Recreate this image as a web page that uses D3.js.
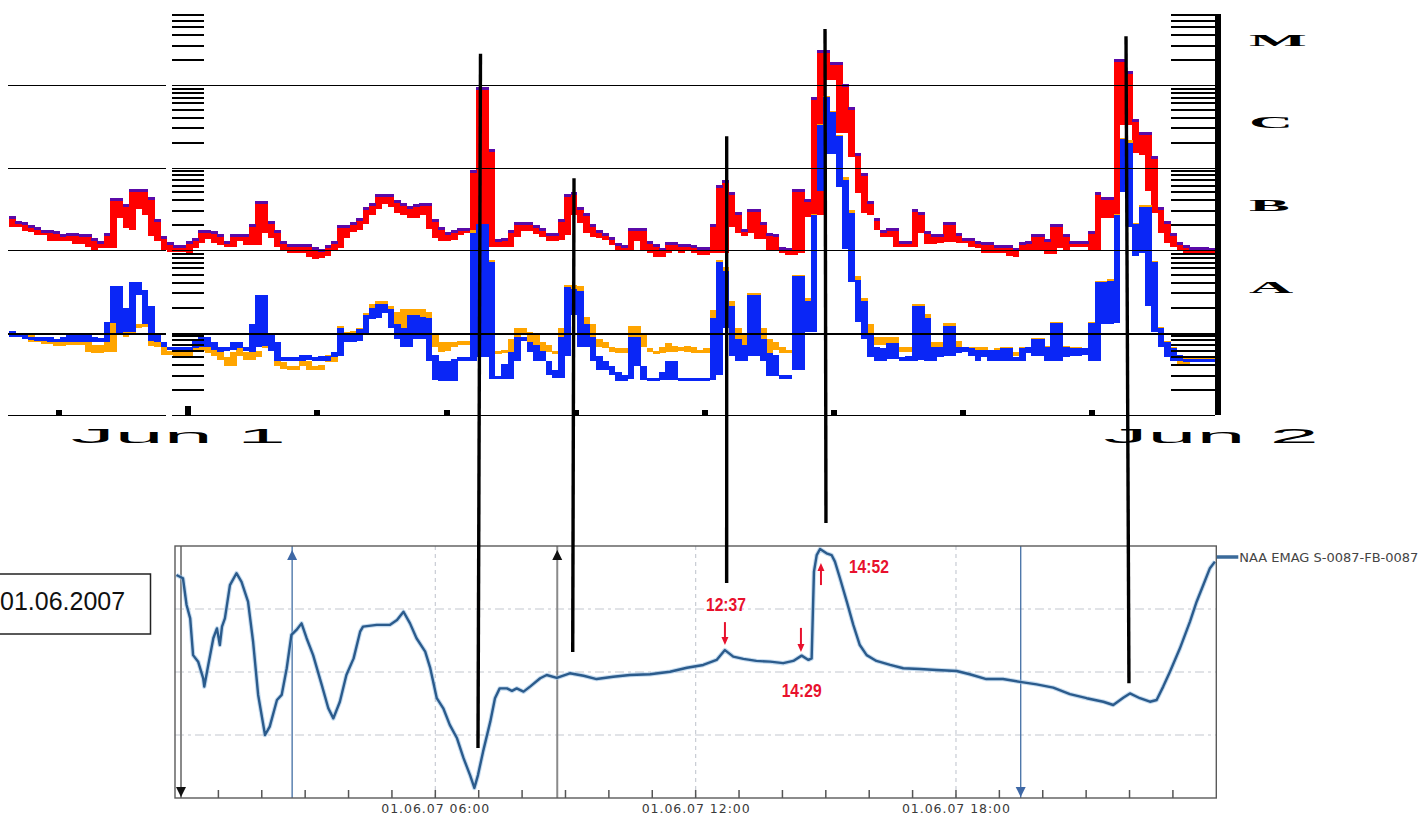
<!DOCTYPE html>
<html><head><meta charset="utf-8">
<script src="https://cdn.jsdelivr.net/npm/d3@7"></script>
<style>html,body{margin:0;padding:0;background:#fff;overflow:hidden}svg{display:block}</style>
</head><body>
<svg id="c" width="1425" height="815"></svg>
<script>
// ---------------- DATA ----------------
// GOES X-ray flux, log10(W/m^2), one value pair (bin max / bin min) per 8.8-minute bin starting 31 May 2007 19:50 UT
const binStartUTC = Date.UTC(2007, 4, 31, 19, 50);
const binMinutes = 8.8;
// long channel (1-8 A), red with purple cap
const longTop = [-6.59,-6.65,-6.66,-6.70,-6.72,-6.76,-6.76,-6.77,-6.81,-6.79,
-6.79,-6.81,-6.81,-6.85,-6.89,-6.79,-6.37,-6.37,-6.44,-6.26,
-6.26,-6.26,-6.36,-6.62,-6.83,-6.90,-6.94,-6.94,-6.89,-6.85,
-6.76,-6.76,-6.77,-6.81,-6.89,-6.81,-6.81,-6.81,-6.68,-6.41,
-6.41,-6.65,-6.76,-6.89,-6.93,-6.93,-6.93,-6.93,-6.96,-6.99,
-6.94,-6.89,-6.70,-6.70,-6.66,-6.61,-6.48,-6.43,-6.32,-6.32,
-6.32,-6.39,-6.43,-6.47,-6.44,-6.43,-6.43,-6.62,-6.72,-6.78,
-6.76,-6.73,-6.73,-6.03,-5.02,-5.02,-5.78,-6.87,-6.85,-6.76,
-6.66,-6.66,-6.66,-6.70,-6.73,-6.79,-6.79,-6.62,-6.32,-6.30,
-6.48,-6.55,-6.68,-6.76,-6.79,-6.84,-6.92,-6.94,-6.73,-6.73,
-6.73,-6.89,-6.93,-6.98,-6.90,-6.90,-6.93,-6.93,-6.94,-6.96,
-6.96,-6.68,-6.21,-6.15,-6.30,-6.54,-6.75,-6.50,-6.50,-6.66,
-6.79,-6.81,-6.96,-6.98,-6.26,-6.26,-6.38,-5.15,-4.58,-4.58,
-4.72,-4.72,-4.99,-5.27,-5.82,-6.07,-6.41,-6.61,-6.76,-6.73,
-6.73,-6.89,-6.89,-6.50,-6.54,-6.77,-6.81,-6.81,-6.66,-6.66,
-6.79,-6.85,-6.85,-6.89,-6.90,-6.90,-6.94,-6.94,-6.94,-6.98,
-6.90,-6.89,-6.81,-6.81,-6.87,-6.68,-6.68,-6.81,-6.89,-6.89,
-6.89,-6.77,-6.30,-6.36,-6.36,-4.68,-4.68,-4.83,-5.41,-5.57,
-5.57,-5.86,-6.48,-6.65,-6.79,-6.90,-6.94,-6.96,-6.96,-6.96,-6.98];
const longBottom = [-6.72,-6.72,-6.77,-6.78,-6.82,-6.82,-6.89,-6.89,-6.89,-6.89,
-6.93,-6.93,-6.96,-7.00,-6.98,-6.98,-6.98,-6.61,-6.73,-6.76,
-6.50,-6.58,-6.83,-6.89,-7.00,-7.02,-7.02,-7.02,-7.05,-6.98,
-6.92,-6.87,-6.92,-6.94,-6.96,-6.96,-6.89,-6.94,-6.94,-6.94,
-6.79,-6.85,-6.96,-7.01,-7.04,-7.04,-7.04,-7.08,-7.11,-7.10,
-7.07,-7.00,-6.98,-6.85,-6.78,-6.76,-6.68,-6.58,-6.50,-6.44,
-6.48,-6.55,-6.58,-6.61,-6.61,-6.58,-6.75,-6.85,-6.89,-6.89,
-6.88,-6.82,-6.79,-6.79,-6.82,-6.96,-6.96,-6.96,-6.96,-6.96,
-6.84,-6.77,-6.77,-6.81,-6.84,-6.89,-6.89,-6.88,-6.82,-6.58,
-6.67,-6.79,-6.84,-6.85,-6.88,-6.94,-7.01,-7.01,-7.01,-6.89,
-7.01,-7.04,-7.08,-7.08,-7.04,-7.01,-7.04,-7.00,-7.04,-7.06,
-7.06,-7.04,-7.04,-7.04,-6.72,-6.79,-6.83,-6.79,-6.87,-6.87,
-7.00,-7.00,-7.04,-7.06,-7.06,-7.04,-6.60,-7.04,-6.58,-4.94,
-4.94,-5.58,-5.58,-5.87,-6.31,-6.55,-6.58,-6.76,-6.84,-6.84,
-6.96,-6.96,-6.96,-6.96,-6.79,-6.93,-6.93,-6.92,-6.90,-6.90,
-6.92,-6.92,-6.96,-6.98,-7.04,-7.04,-7.04,-7.04,-7.07,-7.08,
-7.01,-7.00,-7.01,-7.00,-7.05,-7.05,-6.98,-7.00,-6.96,-6.96,
-6.96,-7.00,-7.00,-6.61,-6.61,-6.58,-5.48,-5.48,-5.82,-5.85,
-6.28,-6.55,-6.79,-6.92,-6.96,-7.01,-7.04,-7.06,-7.04,-7.04,-7.05];
// short channel (0.5-4 A), primary satellite (blue)
const shortTop = [-7.98,-8.00,-8.02,-8.05,-8.05,-8.06,-8.06,-8.08,-8.05,-8.00,
-8.01,-8.02,-8.02,-8.06,-8.07,-7.87,-7.44,-7.44,-7.70,-7.39,
-7.39,-7.48,-7.68,-8.00,-8.11,-8.18,-8.18,-8.18,-8.17,-8.10,
-8.05,-8.05,-8.12,-8.17,-8.18,-8.12,-8.12,-8.17,-7.90,-7.55,
-7.55,-8.00,-8.12,-8.30,-8.30,-8.30,-8.27,-8.27,-8.30,-8.28,
-8.28,-8.24,-7.94,-8.00,-8.00,-7.96,-7.79,-7.70,-7.65,-7.65,
-7.72,-7.90,-7.94,-7.79,-7.79,-7.81,-7.83,-8.27,-8.35,-8.35,
-8.32,-8.30,-8.30,-6.79,-6.69,-6.69,-7.14,-8.53,-8.38,-8.24,
-8.05,-8.05,-8.11,-8.15,-8.23,-8.35,-8.45,-8.05,-7.45,-7.47,
-7.50,-7.90,-8.05,-8.29,-8.35,-8.41,-8.48,-8.51,-8.05,-8.05,
-8.41,-8.55,-8.55,-8.48,-8.34,-8.34,-8.55,-8.55,-8.55,-8.55,
-8.55,-7.82,-7.15,-7.25,-7.68,-8.08,-8.15,-7.54,-7.54,-8.08,
-8.25,-8.27,-8.51,-8.51,-7.32,-7.32,-7.62,-6.58,-5.49,-5.15,
-5.33,-5.62,-6.15,-6.55,-7.36,-7.62,-8.00,-8.17,-8.19,-8.13,
-8.13,-8.30,-8.29,-7.68,-7.68,-7.83,-8.18,-8.18,-7.92,-7.92,
-8.17,-8.18,-8.19,-8.21,-8.21,-8.21,-8.21,-8.19,-8.19,-8.30,
-8.19,-8.17,-8.08,-8.08,-8.17,-7.88,-7.88,-8.17,-8.19,-8.19,
-8.19,-7.88,-7.39,-7.39,-7.37,-6.58,-5.66,-5.70,-6.69,-6.48,
-6.48,-7.15,-7.95,-8.12,-8.19,-8.27,-8.32,-8.32,-8.32,-8.32,-8.32];
const shortBottom = [-8.05,-8.05,-8.08,-8.08,-8.10,-8.10,-8.11,-8.12,-8.12,-8.11,
-8.11,-8.11,-8.12,-8.12,-8.12,-8.12,-7.88,-8.00,-7.99,-7.99,
-7.54,-7.90,-8.10,-8.12,-8.18,-8.21,-8.22,-8.23,-8.24,-8.19,
-8.17,-8.17,-8.21,-8.24,-8.23,-8.21,-8.19,-8.23,-8.24,-8.17,
-8.16,-8.23,-8.35,-8.35,-8.35,-8.34,-8.34,-8.33,-8.35,-8.35,
-8.35,-8.30,-8.29,-8.12,-8.12,-8.10,-8.00,-7.84,-7.83,-7.76,
-7.94,-8.08,-8.17,-8.17,-8.08,-8.08,-8.35,-8.57,-8.59,-8.59,
-8.59,-8.34,-8.34,-8.34,-8.30,-8.30,-8.56,-8.56,-8.56,-8.56,
-8.35,-8.10,-8.24,-8.34,-8.35,-8.51,-8.55,-8.55,-8.29,-7.79,
-8.18,-8.18,-8.35,-8.45,-8.45,-8.52,-8.59,-8.59,-8.56,-8.41,
-8.57,-8.58,-8.58,-8.58,-8.58,-8.58,-8.58,-8.58,-8.58,-8.58,
-8.58,-8.58,-8.51,-7.94,-8.29,-8.35,-8.35,-8.29,-8.29,-8.35,
-8.53,-8.53,-8.56,-8.56,-8.45,-8.45,-7.99,-7.99,-6.29,-5.84,
-5.84,-6.24,-6.99,-7.39,-7.87,-8.08,-8.30,-8.34,-8.34,-8.32,
-8.32,-8.34,-8.34,-8.34,-8.33,-8.35,-8.35,-8.30,-8.29,-8.29,
-8.25,-8.24,-8.29,-8.34,-8.30,-8.35,-8.35,-8.34,-8.34,-8.34,
-8.34,-8.25,-8.29,-8.29,-8.35,-8.35,-8.35,-8.30,-8.29,-8.29,
-8.27,-8.35,-8.34,-7.90,-7.90,-7.88,-6.30,-6.72,-7.07,-7.04,
-7.68,-7.99,-8.18,-8.30,-8.34,-8.34,-8.34,-8.35,-8.35,-8.35,-8.35];
// short channel, secondary satellite (orange)
const short2Top = [-8.00,-8.01,-8.04,-8.02,-8.08,-8.10,-8.10,-8.12,-8.11,-8.10,
-8.10,-8.10,-8.12,-8.15,-8.15,-8.11,-7.87,-7.87,-7.99,-7.98,
-7.90,-7.90,-8.10,-8.12,-8.18,-8.23,-8.23,-8.23,-8.24,-8.15,
-8.17,-8.18,-8.21,-8.24,-8.30,-8.24,-8.19,-8.24,-8.23,-8.23,
-8.15,-8.16,-8.35,-8.36,-8.40,-8.40,-8.35,-8.35,-8.40,-8.39,
-8.27,-8.24,-7.92,-7.99,-7.98,-7.94,-7.76,-7.66,-7.62,-7.62,
-7.68,-7.75,-7.72,-7.72,-7.72,-7.72,-7.75,-8.02,-8.12,-8.12,
-8.11,-8.10,-8.10,-6.76,-6.68,-6.68,-7.12,-8.23,-8.21,-8.08,
-7.95,-7.95,-7.99,-8.00,-8.12,-8.15,-8.23,-7.94,-7.43,-7.43,
-7.44,-7.81,-7.90,-8.08,-8.12,-8.17,-8.19,-8.19,-7.92,-7.92,
-8.00,-8.19,-8.22,-8.18,-8.13,-8.16,-8.17,-8.16,-8.17,-8.21,
-8.19,-7.73,-7.12,-7.21,-7.62,-7.94,-8.02,-7.52,-7.52,-7.94,
-8.08,-8.12,-8.18,-8.21,-7.30,-7.30,-7.58,-6.56,-5.47,-5.13,
-5.31,-5.60,-6.11,-6.52,-7.32,-7.58,-7.90,-8.05,-8.06,-8.05,
-8.05,-8.17,-8.17,-7.65,-7.65,-7.77,-8.12,-8.12,-7.88,-7.88,
-8.10,-8.17,-8.17,-8.17,-8.17,-8.21,-8.19,-8.18,-8.18,-8.24,
-8.17,-8.17,-8.07,-8.07,-8.16,-7.87,-7.87,-8.16,-8.18,-8.18,
-8.24,-7.87,-7.37,-7.37,-7.35,-6.56,-5.64,-5.67,-6.67,-6.46,
-6.46,-7.13,-7.93,-8.10,-8.17,-8.27,-8.28,-8.28,-8.28,-8.28,-8.28];
const short2Bottom = [-8.05,-8.06,-8.08,-8.12,-8.12,-8.12,-8.12,-8.16,-8.16,-8.15,
-8.15,-8.15,-8.24,-8.25,-8.25,-8.24,-8.24,-7.90,-8.05,-8.02,
-7.95,-7.93,-8.16,-8.17,-8.27,-8.27,-8.28,-8.28,-8.28,-8.24,
-8.23,-8.25,-8.29,-8.33,-8.41,-8.41,-8.28,-8.33,-8.33,-8.30,
-8.17,-8.21,-8.41,-8.44,-8.45,-8.45,-8.40,-8.45,-8.45,-8.45,
-8.36,-8.36,-7.94,-8.00,-8.00,-7.98,-7.79,-7.70,-7.65,-7.66,
-7.78,-7.90,-7.94,-7.79,-7.79,-7.81,-7.83,-8.17,-8.24,-8.23,
-8.17,-8.15,-8.15,-6.79,-6.69,-6.69,-7.14,-8.25,-8.25,-8.24,
-8.05,-8.00,-8.11,-8.15,-8.24,-8.24,-8.25,-8.05,-7.47,-7.47,
-7.50,-7.90,-8.05,-8.17,-8.19,-8.24,-8.25,-8.25,-8.05,-8.05,
-8.18,-8.24,-8.25,-8.25,-8.24,-8.24,-8.23,-8.24,-8.25,-8.25,
-8.25,-7.82,-7.15,-7.25,-7.68,-8.08,-8.15,-7.55,-7.55,-8.08,
-8.25,-8.21,-8.25,-8.25,-7.32,-7.32,-7.62,-6.58,-5.49,-5.15,
-5.33,-5.62,-6.15,-6.55,-7.36,-7.62,-8.00,-8.15,-8.15,-8.13,
-8.13,-8.24,-8.24,-7.68,-7.68,-7.83,-8.23,-8.18,-7.92,-7.92,
-8.25,-8.21,-8.21,-8.21,-8.21,-8.23,-8.22,-8.21,-8.21,-8.28,
-8.19,-8.23,-8.10,-8.10,-8.18,-7.89,-7.89,-8.18,-8.21,-8.21,
-8.27,-7.89,-7.39,-7.39,-7.37,-6.58,-5.66,-5.70,-6.69,-6.48,
-6.48,-7.15,-7.95,-8.12,-8.19,-8.39,-8.39,-8.36,-8.36,-8.30,-8.30];
const classLetters = ["A", "B", "C", "M"];
const classDecades = [-8, -7, -6, -5];
const dayLabels = ["Jun 1", "Jun 2"];

// VLF (NAA) amplitude on 1 June 2007: minutes after 00:00 UT, relative amplitude (0-100 of panel)
const vlfMinutes = [2,11,16,21,25,32,39,40.5,46,53,58,62,65,69,76,85,92,101,108,115,124.5,131,141,147.5,154.5,161,168,175,182,191,203,212,219,228,237,247,256,260,279,297,307,316,325,334,346,353,362,371,380,390,399,408,414,419,426,436,442.5,449,459,466,472.5,482,491,505,514,528,546,565,583,606,629,657,684.5,708,730.5,749,760.5,772,786,804,823,841,855,866.6,876,880.4,883.6,887.4,892,901,908,912.6,919.6,929,938,947,956.5,970,989,1007,1030,1053,1081,1099,1122,1145,1168.5,1191.6,1214.5,1237.6,1260.7,1283.7,1297.5,1311.3,1320.6,1334.4,1348.2,1357.5,1366.6,1375.9,1389.7,1403.6,1412.8,1422,1431.2,1438.1];
const vlfValues = [88.5,87.2,76.6,71.3,56.7,54.1,47.5,44.2,52.8,63.4,67.3,60.7,68,71.3,84.5,89.2,85.8,77.9,62,40.9,25,28.3,38.9,40.9,51.5,64.7,66.7,69.3,63.4,56.7,44.8,35.6,31.6,38.2,48.8,55.4,66,68,68.7,68.7,70.6,73.9,69.3,63.4,58.1,51.5,39.6,35.6,29,23.7,15.8,9.1,4,9.1,18.4,30.3,39.6,43.5,43.5,42.5,43.5,42.2,44.2,47.5,48.8,47.7,49.5,48.5,47.2,48.1,48.8,49.1,50.1,51.7,52.8,54.8,58.7,56.1,55.2,54.4,54.1,53.5,54.4,56.5,54.8,55.4,89.8,96.4,98.8,97.1,96.4,93.8,87.2,77.9,68.7,60.7,56.7,54.4,52.8,51.5,51.2,50.8,50.4,49.1,47.2,47.2,46.1,45.1,43.8,41.2,39.6,38.2,36.9,39.8,41.5,39.6,38.2,38.9,44.2,50.1,59.4,70,77.9,84.5,91.2,93.8];
const vlfLegend = "NAA EMAG S-0087-FB-0087";
const vlfTickHours = [6, 12, 18];
const vlfTickLabels = ["01.06.07 06:00", "01.06.07 12:00", "01.06.07 18:00"];
const dateBoxLabel = "01.06.2007";
// cursors of the VLF viewer (minutes after 00:00)
const cursorMinutes = [8.3, 162, 528.6, 1169.5];
const cursorKinds = ["grayDown", "blueUp", "grayUp", "blueDown"];
// red event marks
const eventLabels = ["12:37", "14:29", "14:52"];
const eventArrowMinutes = [760.5, 865.6, 893.3];
const eventArrowFrom = [69.8, 67.5, 84.5];
const eventArrowTo = [60.7, 57.9, 93.3];
const eventLabelMinutes = [761.9, 866.6, 959.6];
const eventLabelValues = [74.2, 40.2, 89.3];
// connecting lines: flare time in GOES plot -> same time in VLF plot
const linkTopMinutes = [407.3, 537.7, 750.6, 887.7, 1307.4];
const linkTopLog = [-4.62, -6.13, -5.62, -4.32, -4.41];
const linkBottomMinutes = [419, 550, 762.9, 900.2, 1319.2];
const linkBottomValues = [19.8, 57.9, 85.3, 109.1, 45.5];

// ---------------- DRAW ----------------
const svg = d3.select("#c");
const MIN = 60e3;
const t0 = new Date(Date.UTC(2007, 5, 1, 0, 0));   // 1 June 2007 00:00 UT
const t1 = new Date(Date.UTC(2007, 5, 2, 0, 0));   // 2 June 2007 00:00 UT
const xTop = d3.scaleUtc().domain([t0, t1]).range([188.4, 1221.1]);
const yTop = d3.scaleLog().domain([1e-9, 1e-4]).range([415, 2.5]);
const xBot = d3.scaleUtc().domain([t0, t1]).range([175, 1216.3]);
const yBot = d3.scaleLinear().domain([0, 100]).range([798, 546]);
const atMin = m => new Date(+t0 + m * MIN);

const bins = longTop.map((_, i) => ({
  a: new Date(binStartUTC + i * binMinutes * MIN),
  b: new Date(binStartUTC + (i + 1) * binMinutes * MIN),
  lt: longTop[i], lb: longBottom[i], st: shortTop[i], sb: shortBottom[i],
  ot: short2Top[i], ob: short2Bottom[i]
}));

const gData = svg.append("g").attr("shape-rendering", "crispEdges");
function band(kTop, kBot, color, minH) {
  gData.append("g").selectAll("rect").data(bins).join("rect")
    .attr("x", d => xTop(d.a)).attr("width", d => xTop(d.b) - xTop(d.a) + 0.4)
    .attr("y", d => yTop(10 ** d[kTop]))
    .attr("height", d => Math.max(minH, yTop(10 ** d[kBot]) - yTop(10 ** d[kTop])))
    .attr("fill", color);
}
band("lt", "lb", "#ff0000", 4);
gData.append("g").selectAll("rect").data(bins).join("rect")
  .attr("x", d => xTop(d.a)).attr("width", d => xTop(d.b) - xTop(d.a) + 0.4)
  .attr("y", d => yTop(10 ** d.lt)).attr("height", 3).attr("fill", "#5a0aa8");
band("ot", "ob", "#ffa500", 3);
band("st", "sb", "#0a26f6", 3);

// grid lines (decades)
const gGrid = svg.append("g").attr("shape-rendering", "crispEdges");
const decades = [1e-9, 1e-8, 1e-7, 1e-6, 1e-5];
const segs = [[8, 166], [172, 1215]];
decades.forEach(f => segs.forEach(s => {
  gGrid.append("line").attr("x1", s[0]).attr("x2", s[1])
    .attr("y1", Math.round(yTop(f)) + 0.5).attr("y2", Math.round(yTop(f)) + 0.5)
    .attr("stroke", "#000").attr("stroke-width", f === 1e-8 ? 2 : 1);
}));
// minor log ticks (left and right columns)
const minor = d3.range(-9, -4).flatMap(d => d3.range(2, 10).map(k => k * 10 ** d)).filter(f => yTop(f) >= 14);
[[172, 204], [1171, 1215]].forEach(([a, b]) => {
  gGrid.append("g").selectAll("line").data(minor).join("line")
    .attr("x1", a).attr("x2", b)
    .attr("y1", f => Math.round(yTop(f))).attr("y2", f => Math.round(yTop(f)))
    .attr("stroke", "#000").attr("stroke-width", 2);
});
// right axis bar
gGrid.append("rect").attr("x", 1215).attr("y", yTop(7.2e-5)).attr("width", 5.5)
  .attr("height", yTop(1e-9) - yTop(7.2e-5)).attr("fill", "#000");
// time ticks every 3 h
const tickTimes = d3.utcHour.every(3).range(new Date(binStartUTC), new Date(binStartUTC + bins.length * binMinutes * MIN));
gGrid.append("g").selectAll("rect").data(tickTimes).join("rect")
  .attr("x", d => xTop(d) - 3).attr("width", 6)
  .attr("y", d => yTop(1e-9) - (d.getUTCHours() === 0 ? 9 : 5))
  .attr("height", d => (d.getUTCHours() === 0 ? 9 : 5)).attr("fill", "#000");
// day labels (stretched)
dayLabels.forEach((lab, i) => {
  svg.append("text").attr("transform", `translate(${xTop(new Date(+t0 + i * 86400e3)) - 10},443) scale(4.4,1)`)
    .attr("text-anchor", "middle").attr("font-family", "Liberation Sans, Arial, sans-serif")
    .attr("font-size", 20).attr("fill", "#000").text(lab);
});
// class letters
classLetters.forEach((c, i) => {
  const ym = yTop(10 ** (classDecades[i] + 0.5)) + 2;
  svg.append("text").attr("transform", `translate(1249,${ym}) scale(3.6,1)`)
    .attr("font-family", "Liberation Serif, Times New Roman, serif").attr("font-weight", "bold")
    .attr("font-size", 17).attr("fill", "#000").text(c);
});

// ---------- bottom (VLF) panel ----------
const gB = svg.append("g");
gB.append("g").selectAll("line").data([25, 50, 75]).join("line")
  .attr("x1", xBot(t0)).attr("x2", xBot(t1)).attr("y1", d => yBot(d)).attr("y2", d => yBot(d))
  .attr("stroke", "#c4c8d0").attr("stroke-width", 1.2).attr("stroke-dasharray", "9,4,3,4");
gB.append("g").selectAll("line").data(vlfTickHours).join("line")
  .attr("x1", d => xBot(atMin(d * 60))).attr("x2", d => xBot(atMin(d * 60)))
  .attr("y1", yBot(100)).attr("y2", yBot(0))
  .attr("stroke", "#c8ccd4").attr("stroke-width", 1.2).attr("stroke-dasharray", "4,4");
gB.append("g").selectAll("line").data(d3.range(1, 24)).join("line")
  .attr("x1", d => xBot(atMin(d * 60))).attr("x2", d => xBot(atMin(d * 60)))
  .attr("y1", yBot(0) - 8).attr("y2", yBot(0))
  .attr("stroke", "#555").attr("stroke-width", 1.5);
gB.append("g").selectAll("text").data(vlfTickHours).join("text")
  .attr("x", d => xBot(atMin(d * 60))).attr("y", 813).attr("text-anchor", "middle")
  .attr("font-family", "DejaVu Sans, Verdana, sans-serif").attr("font-size", 12.5)
  .attr("fill", "#3a3a3a").attr("textLength", 108).attr("lengthAdjust", "spacing")
  .text((d, i) => vlfTickLabels[i]);
cursorMinutes.forEach((m, i) => {
  const k = cursorKinds[i], x = xBot(atMin(m));
  const blue = k.startsWith("blue");
  gB.append("line").attr("x1", x).attr("x2", x).attr("y1", yBot(100)).attr("y2", yBot(0))
    .attr("stroke", blue ? "#4f78aa" : "#8a8a8a").attr("stroke-width", blue ? 1.4 : 2);
  const tri = k.endsWith("Up")
    ? [[x - 5, yBot(100) + 14], [x + 5, yBot(100) + 14], [x, yBot(100) + 4]]
    : [[x - 5, yBot(0) - 11], [x + 5, yBot(0) - 11], [x, yBot(0) - 1]];
  gB.append("path").attr("d", d3.line()(tri) + "Z").attr("fill", blue ? "#3e68a6" : "#111");
});
const vlf = vlfMinutes.map((m, i) => [xBot(atMin(m)), yBot(vlfValues[i])]);
gB.append("path").attr("d", d3.line()(vlf)).attr("fill", "none")
  .attr("stroke", "#9fc3e4").attr("stroke-width", 4.5).attr("stroke-linejoin", "round").attr("opacity", 0.6);
gB.append("path").attr("d", d3.line()(vlf)).attr("fill", "none")
  .attr("stroke", "#2b5b8c").attr("stroke-width", 2.4).attr("stroke-linejoin", "round");
gB.append("rect").attr("x", xBot(t0)).attr("y", yBot(100)).attr("width", xBot(t1) - xBot(t0))
  .attr("height", yBot(0) - yBot(100)).attr("fill", "none").attr("stroke", "#5a5a5a").attr("stroke-width", 1.4);
gB.append("line").attr("x1", xBot(t1) + 0.5).attr("x2", xBot(t1) + 22).attr("y1", 557).attr("y2", 557)
  .attr("stroke", "#3a6a9a").attr("stroke-width", 3.5);
gB.append("text").attr("x", xBot(t1) + 23).attr("y", 561.5)
  .attr("font-family", "DejaVu Sans, Verdana, sans-serif").attr("font-size", 12.5)
  .attr("fill", "#444").attr("textLength", 179).attr("lengthAdjust", "spacingAndGlyphs").text(vlfLegend);
eventLabels.forEach((lab, i) => {
  const x = xBot(atMin(eventArrowMinutes[i]));
  const ya = yBot(eventArrowFrom[i]), yb = yBot(eventArrowTo[i]);
  const dir = yb > ya ? 1 : -1;
  gB.append("line").attr("x1", x).attr("x2", x).attr("y1", ya).attr("y2", yb - dir * 6)
    .attr("stroke", "#e8112d").attr("stroke-width", 2);
  gB.append("path").attr("d", d3.line()([[x - 3.5, yb - dir * 8], [x + 3.5, yb - dir * 8], [x, yb]]) + "Z")
    .attr("fill", "#e8112d");
  gB.append("text").attr("x", xBot(atMin(eventLabelMinutes[i]))).attr("y", yBot(eventLabelValues[i]))
    .attr("text-anchor", "middle").attr("font-family", "Liberation Sans, Arial, sans-serif")
    .attr("font-weight", "bold").attr("font-size", 18).attr("fill", "#e8112d")
    .attr("textLength", 40).attr("lengthAdjust", "spacingAndGlyphs").text(lab);
});
svg.append("rect").attr("x", -3).attr("y", 574).attr("width", 153.5).attr("height", 60)
  .attr("fill", "#fff").attr("stroke", "#222").attr("stroke-width", 1.5);
svg.append("text").attr("x", 0).attr("y", 610).attr("font-family", "Liberation Sans, Arial, sans-serif")
  .attr("font-size", 25).attr("fill", "#111").text(dateBoxLabel);

linkTopMinutes.forEach((m, i) => {
  svg.append("line")
    .attr("x1", xTop(atMin(m))).attr("y1", yTop(10 ** linkTopLog[i]))
    .attr("x2", xBot(atMin(linkBottomMinutes[i]))).attr("y2", yBot(linkBottomValues[i]))
    .attr("stroke", "#000").attr("stroke-width", 3.4);
});
</script>
</body></html>
